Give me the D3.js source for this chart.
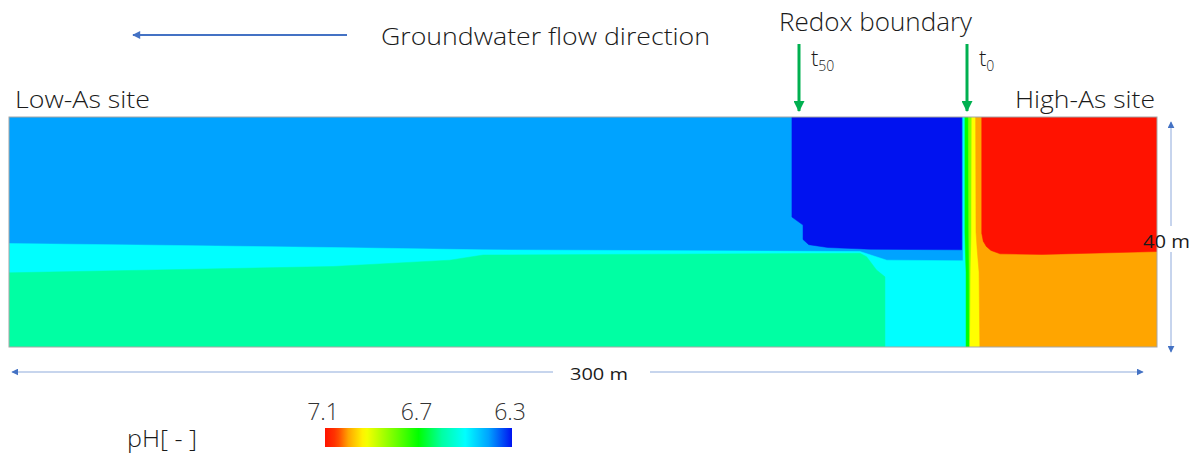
<!DOCTYPE html>
<html>
<head>
<meta charset="utf-8">
<script src="https://d3js.org/d3.v7.min.js"></script>
<style>
    body { margin: 0; background: #ffffff; }
    text { font-family: "Open Sans", "Noto Sans", sans-serif; font-weight: 300; fill: #1a1a1a; }
</style>
</head>
<body>
<script>
(function(){

//section size in metres (length along flow, depth)
var sectionLength = 300,
    sectionDepth = 40;

//pH colour ramp (jet-like, as in the legend)
var phStops = [7.1, 7.05, 7.0, 6.93, 6.7, 6.6, 6.5, 6.4, 6.3];
var phColors = ["#ff1200", "#ff3a00", "#ffa500", "#ffff00", "#00ff00", "#00ffa3", "#00ffff", "#00a3ff", "#0012f0"];
var legendTicks = [7.1, 6.7, 6.3];

//zone boundaries, [x in m, depth in m]
var cyanTop = [[0, 22.0], [38.7, 22.3], [84.7, 22.7], [123.9, 23.1], [222.4, 23.4], [229.4, 24.9], [249.3, 25.0]];
var greenTop = [[0, 27.1], [38.7, 26.6], [84.7, 26.0], [115.2, 24.9], [123.9, 24.0], [222.4, 23.7], [224.1, 24.3], [226.7, 26.6], [228.9, 27.8]];
var darkBlueEdge = [[204.6, 0], [204.6, 17.4], [207.5, 18.8], [207.5, 21.3], [209.0, 22.2], [214.0, 22.7], [225.0, 23.0], [249.0, 23.1], [249.0, 0]];
var redEdge = [[254.2, 0], [254.2, 20.2], [254.6, 21.6], [255.4, 22.5], [256.6, 23.2], [259.0, 23.8], [270.0, 23.9], [300, 23.4], [300, 0]];

//left edges of the narrow strips at the redox front
var stripPh = [6.5, 6.7, 6.82, 6.93, 7.0];
var stripEdges = [
    [[249.3, 0], [249.3, 40]],
    [[249.8, 0], [249.8, 20], [249.9, 23], [250.1, 27], [250.1, 40]],
    [[250.7, 0], [250.8, 20], [250.9, 27], [251.0, 40]],
    [[251.6, 0], [251.5, 20], [251.3, 27], [251.1, 40]],
    [[252.6, 0], [252.7, 20], [253.0, 23], [253.5, 27], [253.7, 40]]
];

//zone pH values
var phBackground = 6.4,
    phCyan = 6.5,
    phGreen = 6.6,
    phDarkBlue = 6.3,
    phRed = 7.1;

window.onload = setMap();

function setMap(){
    var width = 1193,
        height = 455;

    var svg = d3.select("body")
        .append("svg")
        .attr("width", width)
        .attr("height", height);

    //scales for the cross-section
    var x = d3.scaleLinear().domain([0, sectionLength]).range([9, 1157]);
    var y = d3.scaleLinear().domain([0, sectionDepth]).range([117, 347]);

    var color = d3.scaleLinear()
        .domain(phStops)
        .range(phColors)
        .interpolate(d3.interpolateRgb);

    var line = d3.line()
        .x(function(d){ return x(d[0]); })
        .y(function(d){ return y(d[1]); });

    //build zone polygons in drawing order
    var zones = [];
    zones.push({ph: phBackground, pts: [[0, 0], [300, 0], [300, 40], [0, 40]]});
    zones.push({ph: phCyan, pts: cyanTop.concat([[249.3, 40], [0, 40]])});
    zones.push({ph: phGreen, pts: greenTop.concat([[228.9, 40], [0, 40]])});
    zones.push({ph: phDarkBlue, pts: darkBlueEdge});
    stripEdges.forEach(function(edge, i){
        zones.push({ph: stripPh[i], pts: edge.concat([[300, 40], [300, 0]])});
    });
    zones.push({ph: phRed, pts: redEdge});

    var defs = svg.append("defs");
    defs.append("clipPath").attr("id", "sectionClip")
        .append("rect")
        .attr("x", x(0)).attr("y", y(0))
        .attr("width", x(300) - x(0)).attr("height", y(40) - y(0));

    svg.append("g")
        .attr("clip-path", "url(#sectionClip)")
        .selectAll(".zone")
        .data(zones)
        .enter()
        .append("path")
        .attr("class", "zone")
        .attr("d", function(d){ return line(d.pts) + "Z"; })
        .style("fill", function(d){ return color(d.ph); })
        .style("stroke", function(d){ return color(d.ph); })
        .style("stroke-width", 0.5);

    //frame
    svg.append("rect")
        .attr("x", x(0)).attr("y", y(0))
        .attr("width", x(300) - x(0)).attr("height", y(40) - y(0))
        .style("fill", "none")
        .style("stroke", "#a6a6a6")
        .style("stroke-width", 1);

    setAnnotations(svg, defs, x, y);
    setLegend(svg, defs, color);
};

function setAnnotations(svg, defs, x, y){
    //arrow heads
    function addMarker(id, fill, w, h){
        defs.append("marker")
            .attr("id", id)
            .attr("viewBox", "0 0 10 10")
            .attr("refX", 9).attr("refY", 5)
            .attr("markerUnits", "userSpaceOnUse")
            .attr("markerWidth", w).attr("markerHeight", h)
            .attr("orient", "auto")
            .append("path")
            .attr("d", "M0,0L10,5L0,10Z")
            .style("fill", fill);
    };
    addMarker("blueHead", "#4472c4", 9, 8);
    addMarker("greenHead", "#00b050", 12, 11);
    addMarker("dimHead", "#4472c4", 7, 7);

    //groundwater flow arrow
    svg.append("line")
        .attr("x1", 347).attr("y1", 35).attr("x2", 133).attr("y2", 35)
        .style("stroke", "#4472c4").style("stroke-width", 2)
        .attr("marker-end", "url(#blueHead)");

    svg.append("text")
        .attr("x", 381).attr("y", 45)
        .attr("font-size", 24)
        .attr("textLength", 329).attr("lengthAdjust", "spacingAndGlyphs")
        .text("Groundwater flow direction");

    svg.append("text")
        .attr("x", 779).attr("y", 31)
        .attr("font-size", 25)
        .attr("textLength", 193).attr("lengthAdjust", "spacingAndGlyphs")
        .text("Redox boundary");

    //redox front arrows t50 and t0
    var fronts = [{x: 799, sub: "50"}, {x: 967, sub: "0"}];
    fronts.forEach(function(f){
        svg.append("line")
            .attr("x1", f.x).attr("y1", 44).attr("x2", f.x).attr("y2", 111)
            .style("stroke", "#00b050").style("stroke-width", 3)
            .attr("marker-end", "url(#greenHead)");
        var t = svg.append("text")
            .attr("x", f.x + 12).attr("y", 66)
            .attr("font-size", 22);
        t.append("tspan").text("t");
        t.append("tspan").attr("dy", 5).attr("font-size", 14).text(f.sub);
    });

    svg.append("text")
        .attr("x", 15).attr("y", 108)
        .attr("font-size", 23)
        .attr("textLength", 135).attr("lengthAdjust", "spacingAndGlyphs")
        .text("Low-As site");

    svg.append("text")
        .attr("x", 1015).attr("y", 108)
        .attr("font-size", 23)
        .attr("textLength", 140).attr("lengthAdjust", "spacingAndGlyphs")
        .text("High-As site");

    //dimension arrows
    svg.append("line")
        .attr("x1", 1171).attr("y1", 226).attr("x2", 1171).attr("y2", 122)
        .style("stroke", "#8faadc").style("stroke-width", 1)
        .attr("marker-end", "url(#dimHead)");
    svg.append("line")
        .attr("x1", 1171).attr("y1", 252).attr("x2", 1171).attr("y2", 352)
        .style("stroke", "#8faadc").style("stroke-width", 1)
        .attr("marker-end", "url(#dimHead)");
    svg.append("text")
        .attr("x", 1143).attr("y", 248)
        .attr("font-size", 18)
        .attr("textLength", 47).attr("lengthAdjust", "spacingAndGlyphs")
        .style("font-weight", 400)
        .text("40 m");

    svg.append("line")
        .attr("x1", 553).attr("y1", 372).attr("x2", 12).attr("y2", 372)
        .style("stroke", "#b4c7e7").style("stroke-width", 1.5)
        .attr("marker-end", "url(#dimHead)");
    svg.append("line")
        .attr("x1", 650).attr("y1", 372).attr("x2", 1143).attr("y2", 372)
        .style("stroke", "#b4c7e7").style("stroke-width", 1.5)
        .attr("marker-end", "url(#dimHead)");
    svg.append("text")
        .attr("x", 570).attr("y", 380)
        .attr("font-size", 16)
        .attr("textLength", 58).attr("lengthAdjust", "spacingAndGlyphs")
        .style("font-weight", 400)
        .text("300 m");
};

function setLegend(svg, defs, color){
    var lx = d3.scaleLinear().domain([7.1, 6.3]).range([325, 512]);

    var grad = defs.append("linearGradient")
        .attr("id", "phGrad")
        .attr("x1", "0%").attr("x2", "100%")
        .attr("y1", "0%").attr("y2", "0%");
    grad.selectAll("stop")
        .data(d3.range(0, 41))
        .enter()
        .append("stop")
        .attr("offset", function(d){ return (d / 40 * 100) + "%"; })
        .attr("stop-color", function(d){ return color(7.1 - d / 40 * 0.8); });

    svg.append("rect")
        .attr("x", lx(7.1)).attr("y", 428)
        .attr("width", lx(6.3) - lx(7.1)).attr("height", 19)
        .style("fill", "url(#phGrad)");

    svg.selectAll(".legendTick")
        .data(legendTicks)
        .enter()
        .append("text")
        .attr("class", "legendTick")
        .attr("x", function(d){ return lx(d) - 2; })
        .attr("y", 420)
        .attr("text-anchor", "middle")
        .attr("font-size", 23)
        .style("fill", "#333333")
        .text(function(d){ return d3.format(".1f")(d); });

    svg.append("text")
        .attr("x", 127).attr("y", 447)
        .attr("font-size", 23)
        .attr("textLength", 70).attr("lengthAdjust", "spacingAndGlyphs")
        .text("pH[ - ]");
};

})();
</script>
</body>
</html>
